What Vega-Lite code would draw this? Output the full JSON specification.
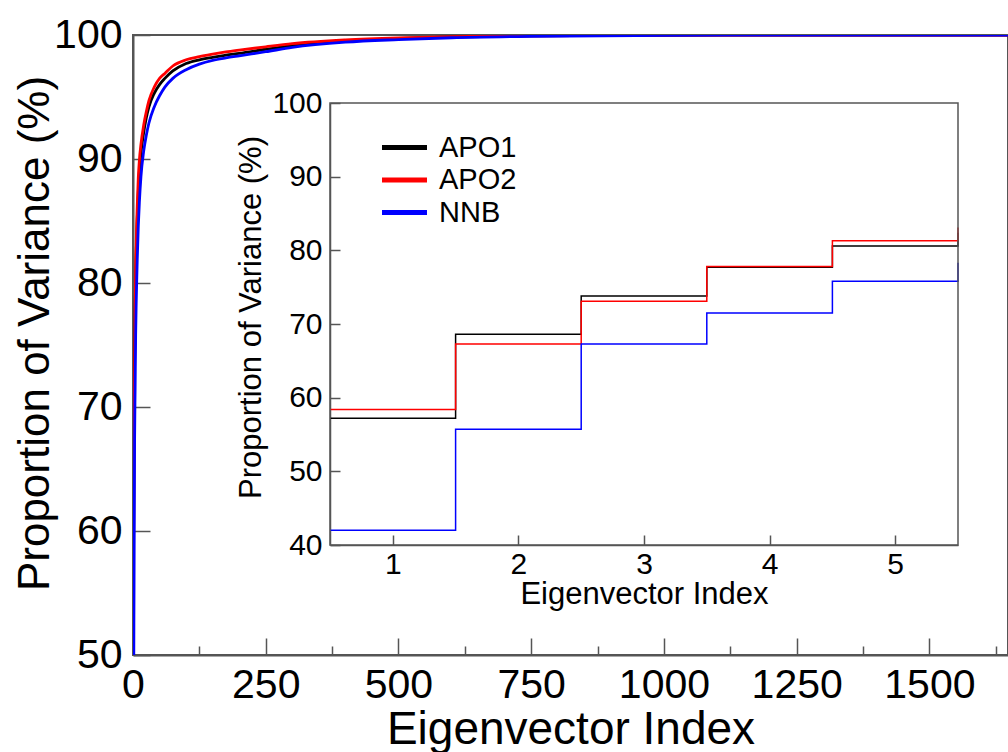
{
  "$schema": "https://vega.github.io/schema/vega-lite/v6.json",
  "width": 875,
  "height": 620,
  "autosize": {"type": "none"},
  "padding": {"left": 133, "top": 35, "right": 0, "bottom": 97},
  "background": "white",
  "config": {
    "view": {"stroke": "#555", "strokeWidth": 2},
    "font": "Liberation Sans",
    "axis": {"domainColor": "#555", "tickColor": "#555", "labelColor": "#000", "titleColor": "#000", "labelFont": "Liberation Sans", "titleFont": "Liberation Sans", "titleFontWeight": "normal", "grid": false, "labelFlush": false, "labelOverlap": false, "labelBound": false}
  },
  "datasets": {
    "pca": [
      {"index": 0, "series": "APO1", "value": 0},
      {"index": 1, "series": "APO1", "value": 57.2},
      {"index": 2, "series": "APO1", "value": 68.6},
      {"index": 3, "series": "APO1", "value": 73.8},
      {"index": 4, "series": "APO1", "value": 77.7},
      {"index": 5, "series": "APO1", "value": 80.6},
      {"index": 6, "series": "APO1", "value": 82.4},
      {"index": 7, "series": "APO1", "value": 83.9},
      {"index": 8, "series": "APO1", "value": 85.2},
      {"index": 10, "series": "APO1", "value": 87.4},
      {"index": 12, "series": "APO1", "value": 89.0},
      {"index": 15, "series": "APO1", "value": 90.5},
      {"index": 20, "series": "APO1", "value": 92.1},
      {"index": 25, "series": "APO1", "value": 93.3},
      {"index": 30, "series": "APO1", "value": 94.2},
      {"index": 40, "series": "APO1", "value": 95.3},
      {"index": 50, "series": "APO1", "value": 96.0},
      {"index": 60, "series": "APO1", "value": 96.5},
      {"index": 75, "series": "APO1", "value": 97.1},
      {"index": 100, "series": "APO1", "value": 97.7},
      {"index": 125, "series": "APO1", "value": 98.0},
      {"index": 150, "series": "APO1", "value": 98.2},
      {"index": 175, "series": "APO1", "value": 98.38},
      {"index": 200, "series": "APO1", "value": 98.52},
      {"index": 250, "series": "APO1", "value": 98.85},
      {"index": 300, "series": "APO1", "value": 99.15},
      {"index": 400, "series": "APO1", "value": 99.52},
      {"index": 500, "series": "APO1", "value": 99.72},
      {"index": 600, "series": "APO1", "value": 99.84},
      {"index": 750, "series": "APO1", "value": 99.93},
      {"index": 1000, "series": "APO1", "value": 99.98},
      {"index": 1250, "series": "APO1", "value": 99.995},
      {"index": 1500, "series": "APO1", "value": 100},
      {"index": 1650, "series": "APO1", "value": 100},
      {"index": 0, "series": "APO2", "value": 0},
      {"index": 1, "series": "APO2", "value": 58.4},
      {"index": 2, "series": "APO2", "value": 67.3},
      {"index": 3, "series": "APO2", "value": 73.1},
      {"index": 4, "series": "APO2", "value": 77.8},
      {"index": 5, "series": "APO2", "value": 81.3},
      {"index": 6, "series": "APO2", "value": 83.1},
      {"index": 7, "series": "APO2", "value": 84.8},
      {"index": 8, "series": "APO2", "value": 86.2},
      {"index": 10, "series": "APO2", "value": 88.5},
      {"index": 12, "series": "APO2", "value": 89.9},
      {"index": 15, "series": "APO2", "value": 91.2},
      {"index": 20, "series": "APO2", "value": 92.7},
      {"index": 25, "series": "APO2", "value": 93.8},
      {"index": 30, "series": "APO2", "value": 94.7},
      {"index": 40, "series": "APO2", "value": 95.8},
      {"index": 50, "series": "APO2", "value": 96.5},
      {"index": 60, "series": "APO2", "value": 96.9},
      {"index": 75, "series": "APO2", "value": 97.5},
      {"index": 100, "series": "APO2", "value": 98.0},
      {"index": 125, "series": "APO2", "value": 98.25},
      {"index": 150, "series": "APO2", "value": 98.45},
      {"index": 175, "series": "APO2", "value": 98.63},
      {"index": 200, "series": "APO2", "value": 98.78},
      {"index": 250, "series": "APO2", "value": 99.05},
      {"index": 300, "series": "APO2", "value": 99.3},
      {"index": 400, "series": "APO2", "value": 99.6},
      {"index": 500, "series": "APO2", "value": 99.77},
      {"index": 600, "series": "APO2", "value": 99.87},
      {"index": 750, "series": "APO2", "value": 99.94},
      {"index": 1000, "series": "APO2", "value": 99.985},
      {"index": 1250, "series": "APO2", "value": 99.997},
      {"index": 1500, "series": "APO2", "value": 100},
      {"index": 1650, "series": "APO2", "value": 100},
      {"index": 0, "series": "NNB", "value": 0},
      {"index": 1, "series": "NNB", "value": 42.0},
      {"index": 2, "series": "NNB", "value": 55.7},
      {"index": 3, "series": "NNB", "value": 67.3},
      {"index": 4, "series": "NNB", "value": 71.5},
      {"index": 5, "series": "NNB", "value": 75.8},
      {"index": 6, "series": "NNB", "value": 78.3},
      {"index": 7, "series": "NNB", "value": 80.2},
      {"index": 8, "series": "NNB", "value": 81.9},
      {"index": 10, "series": "NNB", "value": 84.6},
      {"index": 12, "series": "NNB", "value": 86.5},
      {"index": 15, "series": "NNB", "value": 88.6},
      {"index": 20, "series": "NNB", "value": 90.6},
      {"index": 25, "series": "NNB", "value": 91.9},
      {"index": 30, "series": "NNB", "value": 92.9},
      {"index": 40, "series": "NNB", "value": 94.2},
      {"index": 50, "series": "NNB", "value": 95.1},
      {"index": 60, "series": "NNB", "value": 95.8},
      {"index": 75, "series": "NNB", "value": 96.5},
      {"index": 100, "series": "NNB", "value": 97.2},
      {"index": 125, "series": "NNB", "value": 97.65},
      {"index": 150, "series": "NNB", "value": 97.95},
      {"index": 175, "series": "NNB", "value": 98.15},
      {"index": 200, "series": "NNB", "value": 98.32},
      {"index": 250, "series": "NNB", "value": 98.65},
      {"index": 300, "series": "NNB", "value": 99.0},
      {"index": 400, "series": "NNB", "value": 99.42},
      {"index": 500, "series": "NNB", "value": 99.63},
      {"index": 600, "series": "NNB", "value": 99.78},
      {"index": 750, "series": "NNB", "value": 99.89},
      {"index": 1000, "series": "NNB", "value": 99.97},
      {"index": 1250, "series": "NNB", "value": 99.99},
      {"index": 1500, "series": "NNB", "value": 100},
      {"index": 1650, "series": "NNB", "value": 100}
    ]
  },
  "layer": [
    {
      "data": {"name": "pca"},
      "mark": {"type": "line", "interpolate": "monotone", "clip": true, "strokeWidth": 2.8},
      "encoding": {
        "x": {
          "field": "index", "type": "quantitative",
          "scale": {"domain": [0, 1648], "nice": false, "zero": false},
          "axis": {
            "orient": "bottom",
            "values": [0, 125, 250, 375, 500, 625, 750, 875, 1000, 1125, 1250, 1375, 1500, 1625],
            "labelExpr": "datum.value % 250 === 0 ? datum.label : ''",
            "format": "d",
            "labelFontSize": 41,
            "tickSize": {"condition": {"test": "datum.value % 250 === 0", "value": -17}, "value": -9},
            "tickWidth": 1.5,
            "domainWidth": 2,
            "labelPadding": 27,
            "title": "Eigenvector Index",
            "titleFontSize": 46,
            "titleBaseline": "alphabetic",
            "titleY": 88
          }
        },
        "y": {
          "field": "value", "type": "quantitative",
          "scale": {"domain": [50, 100], "nice": false, "zero": false},
          "axis": {
            "orient": "left",
            "values": [50, 60, 70, 80, 90, 100],
            "labelFontSize": 41,
            "tickSize": -17,
            "tickWidth": 1.5,
            "domainWidth": 2,
            "labelPadding": 28,
            "title": "Proportion of Variance (%)",
            "titleFontSize": 44,
            "titleBaseline": "alphabetic",
            "titleAngle": 270,
            "titleX": -85,
            "titleY": 298
          }
        },
        "color": {
          "field": "series", "type": "nominal",
          "scale": {"domain": ["APO1", "APO2", "NNB"], "range": ["#000000", "#ff0000", "#0000ff"]},
          "legend": {
            "orient": "none",
            "legendX": 257,
            "legendY": 98,
            "title": null,
            "symbolType": "M-2,0L2,0",
            "symbolSize": 506,
            "symbolStrokeWidth": 5,
            "labelFontSize": 29,
            "labelFont": "Liberation Sans",
            "labelColor": "#000",
            "labelOffset": 20,
            "rowPadding": 2.5
          }
        }
      }
    },
    {
      "data": {"name": "pca"},
      "transform": [{"filter": "datum.index >= 1 && datum.index <= 6"}],
      "layer": [
        {
          "mark": {"type": "line", "interpolate": "step-after", "xOffset": -62.8, "strokeWidth": 1.5},
          "encoding": {
            "x": {
              "field": "index", "type": "quantitative",
              "scale": {"domain": [0.5, 5.5], "range": [197, 825], "nice": false, "zero": false},
              "axis": {
                "orient": "bottom",
                "offset": -110,
                "values": [1, 2, 3, 4, 5],
                "format": "d",
                "labelFontSize": 30,
                "tickSize": -10,
                "tickWidth": 1.5,
                "domainWidth": 1.5,
                "labelPadding": 14,
                "title": "Eigenvector Index",
                "titleFontSize": 31,
                "titlePadding": 0
              }
            },
            "y": {
              "field": "value", "type": "quantitative",
              "scale": {"domain": [40, 100], "range": [510, 68], "nice": false, "zero": false},
              "axis": {
                "orient": "left",
                "offset": -197,
                "values": [40, 50, 60, 70, 80, 90, 100],
                "format": "d",
                "labelFontSize": 30,
                "tickSize": -10,
                "tickWidth": 1.5,
                "domainWidth": 1.5,
                "labelPadding": 18,
                "title": "Proportion of Variance (%)",
                "titleFontSize": 31,
                "titlePadding": 4,
                "titleY": 282
              }
            },
            "color": {"field": "series", "type": "nominal", "legend": null}
          }
        },
        {
          "data": {"values": [{"frame": "inset"}]},
          "mark": {"type": "rect", "filled": false, "color": "#555", "strokeWidth": 1.5},
          "encoding": {
            "x": {"datum": 0.5, "type": "quantitative"},
            "x2": {"datum": 5.5},
            "y": {"datum": 40, "type": "quantitative"},
            "y2": {"datum": 100}
          }
        }
      ]
    }
  ],
  "resolve": {"scale": {"x": "independent", "y": "independent"}, "axis": {"x": "independent", "y": "independent"}}
}
